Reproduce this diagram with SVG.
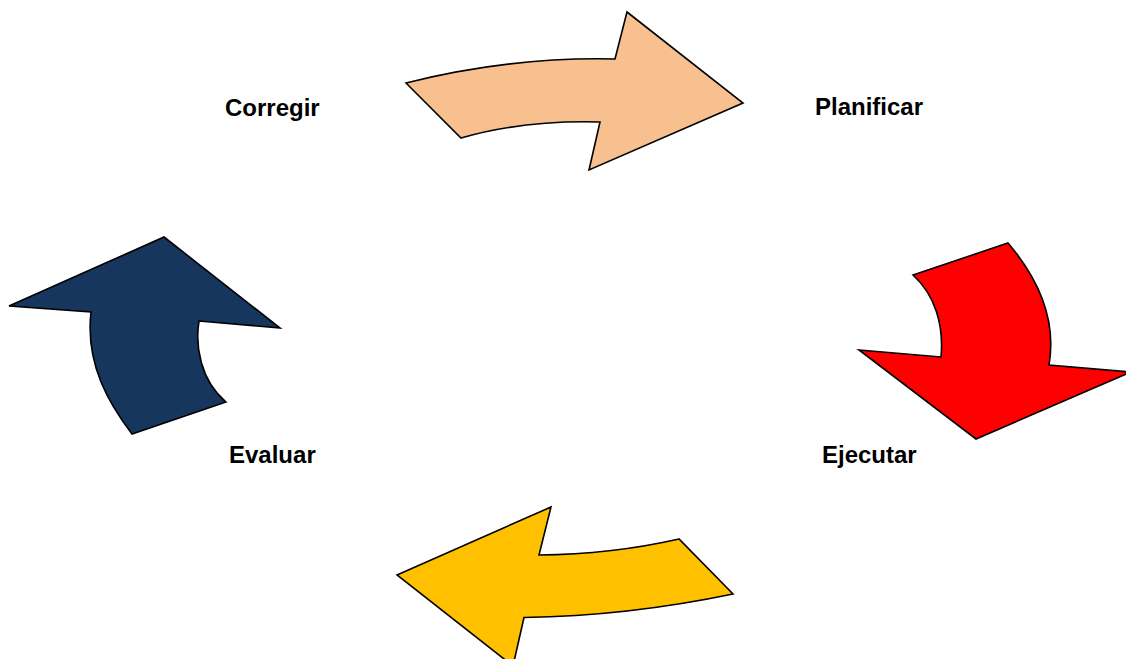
<svg xmlns="http://www.w3.org/2000/svg" width="1126" height="659" viewBox="0 0 1126 659">
<style>
.arrow{stroke:#000;stroke-width:1.6;stroke-linejoin:miter}
.lbl{font-family:"Liberation Sans",Arial,sans-serif;font-weight:bold;font-size:24px;fill:#000}
</style>
<rect width="1126" height="659" fill="#fff"/>
<g id="connectors">
<path id="arrow-top" class="arrow" fill="#F9C08F" d="M406,83 L461,138 Q523,120 600,122 L589,170 L743,103 L627,12 L615,59 Q509.5,56.7 406,83 Z"/>
<path id="arrow-right" class="arrow" fill="#FF0000" d="M913,275 L1008,243 Q1059.5,303.5 1049,365 L1131,372 L976,439 L859,350 L941,357 C944,325 935,295 913,275 Z"/>
<path id="arrow-bottom" class="arrow" fill="#FFC000" d="M397,575 L551,507 L539,555 Q611,554.4 679,539 L733,594 Q627.5,616 524,617.5 L513,666 Z"/>
<path id="arrow-left" class="arrow" fill="#17365D" d="M164,237 L280,328 L199,321 C195,345 200,380 226,402 L132,434 C110,405 85,365 91,312 L9,306 Z"/>
</g>
<g id="node-corregir"><text class="lbl" x="225" y="116">Corregir</text></g>
<g id="node-planificar"><text class="lbl" x="815" y="115">Planificar</text></g>
<g id="node-ejecutar"><text class="lbl" x="822" y="463">Ejecutar</text></g>
<g id="node-evaluar"><text class="lbl" x="229" y="463">Evaluar</text></g>
</svg>
